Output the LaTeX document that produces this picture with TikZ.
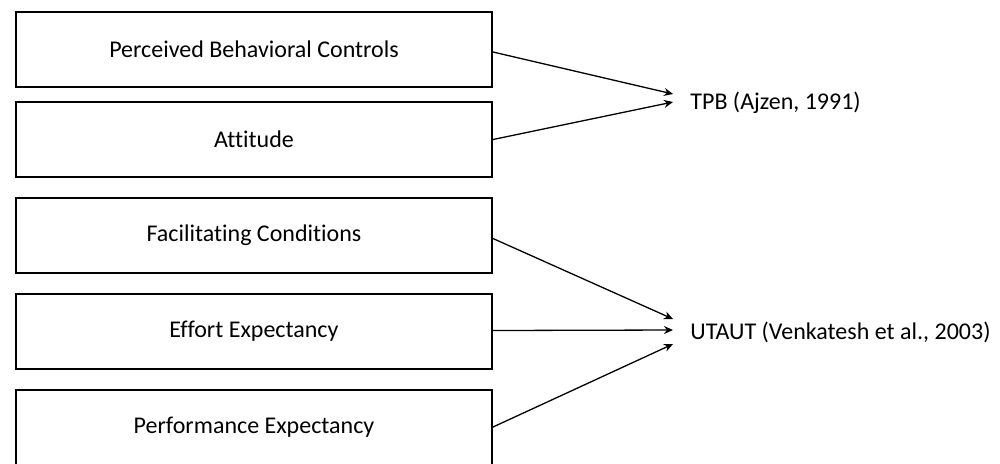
\documentclass[tikz,border=0pt]{standalone}
\usepackage{fontspec}
\setmainfont{Carlito}[Ligatures=NoCommon]
\usetikzlibrary{arrows.meta}

\begin{document}
\begin{tikzpicture}[x=0.5pt, y=-0.5pt,
    factor/.style={draw, line width=1pt, minimum width=238pt, minimum height=37.5pt, inner sep=0pt, font=\fontsize{12}{14}\selectfont},
    theory/.style={anchor=west, inner sep=0pt, font=\fontsize{12}{14}\selectfont},
    link/.style={-{Stealth[length=4.5pt, width=4pt]}, line width=0.65pt}]
    \useasboundingbox (0,0) rectangle (1000,463);

    % Factor boxes
    \node[factor] (pbc) at (254, 49) {Perceived Behavioral Controls};
    \node[factor] (att) at (254, 139.5) {Attitude};
    \node[factor] (fc)  at (254, 235.5) {Facilitating Conditions};
    \node[factor] (ee)  at (254, 331.5) {Effort Expectancy};
    \node[factor] (pe)  at (254, 427) {Performance Expectancy};

    % Theories
    \node[theory] (tpb)   at (690, 103) {TPB (Ajzen, 1991)};
    \node[theory] (utaut) at (690, 332) {UTAUT (Venkatesh et al., 2003)};

    % Arrow ends in front of the theory labels
    \coordinate (tpbA) at (673, 94);
    \coordinate (tpbB) at (673, 102);
    \coordinate (utA) at (673, 319);
    \coordinate (utB) at (673, 330);
    \coordinate (utC) at (673, 344);

    % Links
    \draw[link] ([yshift=-1.5pt]pbc.east) -- (tpbA);
    \draw[link] (att.east) -- (tpbB);
    \draw[link] ([yshift=-1.5pt]fc.east) -- (utA);
    \draw[link] ([yshift=0.5pt]ee.east) -- (utB);
    \draw[link] (pe.east) -- (utC);
\end{tikzpicture}
\end{document}
